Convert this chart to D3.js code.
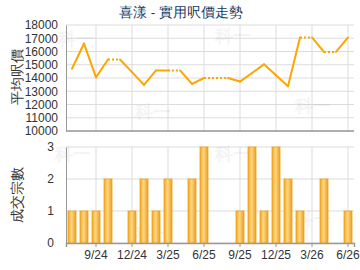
<!DOCTYPE html>
<html>
<head>
<meta charset="utf-8">
<script src="https://cdn.jsdelivr.net/npm/d3@7"></script>
<style>
  body { margin: 0; background: #fff; }
  text { font-family: "Liberation Sans", Arial, sans-serif; }
</style>
</head>
<body>
<svg id="chart" width="360" height="270"></svg>
<script>
// months Jul 2024 .. Jun 2026
const months = ["7/24","8/24","9/24","10/24","11/24","12/24","1/25","2/25","3/25","4/25","5/25","6/25",
  "7/25","8/25","9/25","10/25","11/25","12/25","1/26","2/26","3/26","4/26","5/26","6/26"];
const prices = [14700,16600,14050,15400,15400,14440,13480,14570,14570,14570,13560,14000,
  14000,14000,13730,14380,15030,14200,13380,17060,17060,15970,15970,17060];
const counts = [1,1,1,2,0,1,2,1,2,0,2,3,0,0,1,3,1,3,2,1,0,2,0,1];
const tickLabels = ["9/24","12/24","3/25","6/25","9/25","12/25","3/26","6/26"];
const priceTicks = [10000,11000,12000,13000,14000,15000,16000,17000,18000];
const countTicks = [0,1,2,3];

const svg = d3.select("#chart");
const left = 66, right = 354;

const x = d3.scaleBand().domain(months).range([left, right]);
const cx = m => x(m) + x.bandwidth() / 2;

const yP = d3.scaleLinear().domain([10000, 18000]).range([131, 25]);
const yC = d3.scaleLinear().domain([0, 3]).range([243, 147]);

// gradient for bars
const defs = svg.append("defs");
const grad = defs.append("linearGradient").attr("id", "barGrad")
  .attr("x1", "0%").attr("x2", "100%").attr("y1", "0%").attr("y2", "0%");
grad.append("stop").attr("offset", "0%").attr("stop-color", "#f2a81e");
grad.append("stop").attr("offset", "45%").attr("stop-color", "#fdd68a");
grad.append("stop").attr("offset", "100%").attr("stop-color", "#eea012");

// title
svg.append("text")
  .attr("x", 181).attr("y", 17)
  .attr("text-anchor", "middle")
  .attr("font-size", 13.5)
  .attr("fill", "#173a63")
  .text("喜漾 - 實用呎價走勢");

function grid(g, yScale, ticks, y0, y1) {
  g.selectAll(".hg").data(ticks).join("line")
    .attr("class", "hg")
    .attr("x1", left).attr("x2", right)
    .attr("y1", d => yScale(d)).attr("y2", d => yScale(d))
    .attr("stroke", "#dcdcdc");
  g.selectAll(".vg").data(tickLabels).join("line")
    .attr("class", "vg")
    .attr("x1", d => cx(d)).attr("x2", d => cx(d))
    .attr("y1", y0).attr("y2", y1)
    .attr("stroke", "#dcdcdc");
}

function watermark(g, spots) {
  g.selectAll(".wm").data(spots).join("text")
    .attr("class", "wm")
    .attr("x", d => d[0]).attr("y", d => d[1])
    .attr("font-size", 18).attr("font-weight", "bold")
    .attr("fill", "#000").attr("opacity", 0.04)
    .text("科一");
}

function styleText(g) {
  g.selectAll("text").attr("font-size", 12).attr("fill", "#333")
    .attr("font-family", "Liberation Sans, Arial, sans-serif");
}

// ---- price chart
const priceG = svg.append("g");
grid(priceG, yP, priceTicks, 25, 131);
watermark(priceG, [[58, 45], [135, 118], [215, 42], [295, 112]]);

priceG.append("g")
  .attr("transform", `translate(${left},0)`)
  .call(d3.axisLeft(yP).tickValues(priceTicks).tickFormat(d3.format("d")).tickSize(0).tickPadding(8))
  .call(g => g.select(".domain").attr("stroke", "#999"))
  .call(styleText);
priceG.append("line").attr("x1", left).attr("x2", right).attr("y1", 131).attr("y2", 131)
  .attr("stroke", "#999").attr("stroke-width", 1.5);

// line segments, dotted when the next month has no deals
const pts = months.map((m, i) => [cx(m), yP(prices[i])]);
for (let i = 0; i < pts.length - 1; i++) {
  const dotted = counts[i + 1] === 0;
  priceG.append("line")
    .attr("x1", pts[i][0]).attr("y1", pts[i][1])
    .attr("x2", pts[i + 1][0]).attr("y2", pts[i + 1][1])
    .attr("stroke", "#ffa500")
    .attr("stroke-width", 2)
    .attr("stroke-linecap", dotted ? "butt" : "round")
    .attr("stroke-dasharray", dotted ? "2,2" : null);
}

svg.append("text")
  .attr("transform", "translate(17,77) rotate(-90)")
  .attr("text-anchor", "middle")
  .attr("dominant-baseline", "central")
  .attr("font-size", 14).attr("fill", "#333")
  .text("平均呎價");

// ---- count chart
const countG = svg.append("g");
grid(countG, yC, countTicks, 147, 243);
watermark(countG, [[55, 160], [135, 240], [215, 160], [295, 225]]);

countG.selectAll(".bar").data(months.map((m, i) => ({ m, c: counts[i] })).filter(d => d.c > 0))
  .join("rect")
  .attr("class", "bar")
  .attr("x", d => cx(d.m) - 4)
  .attr("width", 8)
  .attr("y", d => yC(d.c))
  .attr("height", d => yC(0) - yC(d.c))
  .attr("fill", "url(#barGrad)")
  .attr("stroke", "#f0a010")
  .attr("stroke-width", 0.8);

countG.append("g")
  .attr("transform", `translate(${left},0)`)
  .call(d3.axisLeft(yC).tickValues(countTicks).tickFormat(d3.format("d")).tickSize(0).tickPadding(12))
  .call(g => g.select(".domain").attr("stroke", "#999"))
  .call(styleText);

countG.append("g")
  .attr("transform", "translate(0,243)")
  .call(d3.axisBottom(x).tickValues(tickLabels).tickSize(4).tickPadding(3))
  .call(g => g.select(".domain").attr("stroke", "#999").attr("stroke-width", 1.5))
  .call(g => g.selectAll(".tick line").attr("stroke", "#999"))
  .call(styleText);

svg.append("text")
  .attr("transform", "translate(17,195) rotate(-90)")
  .attr("text-anchor", "middle")
  .attr("dominant-baseline", "central")
  .attr("font-size", 14).attr("fill", "#333")
  .text("成交宗數");
</script>
</body>
</html>
